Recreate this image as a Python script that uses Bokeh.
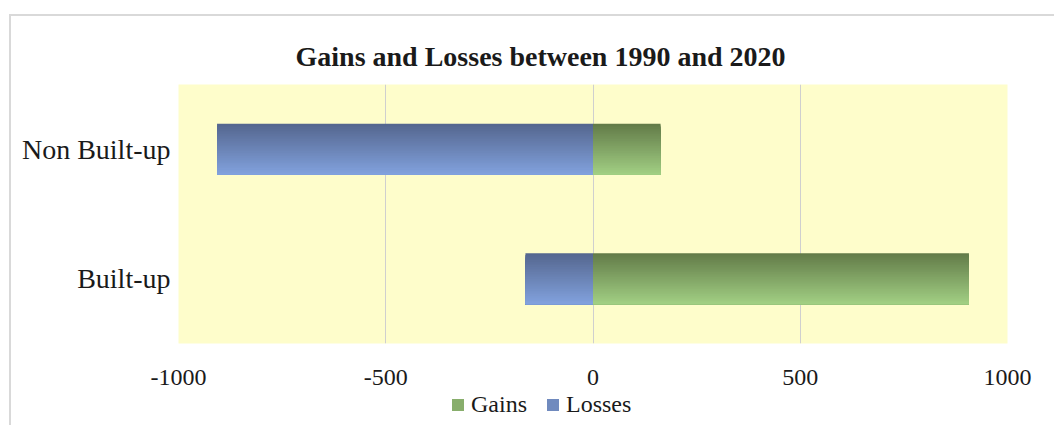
from bokeh.plotting import figure
from bokeh.layouts import column
from bokeh.models import (FactorRange, Range1d, Title, Legend, LegendItem,
                          ColumnDataSource, FixedTicker)
from bokeh.transform import dodge
from bokeh.embed import file_html
from bokeh.resources import INLINE

# Land-cover change between 1990 and 2020
categories = ["Built-up", "Non Built-up"]
gains = [907, 163]
losses = [-163, -907]
x_ticks = [-1000, -500, 0, 500, 1000]
x_tick_labels = ["-1000", "-500", "0", "500", "1000"]
series_names = ["Gains", "Losses"]

TITLE = "Gains and Losses between 1990 and 2020"
FONT = "Liberation Serif"
TEXT_COLOR = "#1a1a1a"

# vertical gradients (top colour, bottom colour) for each series
GRADIENTS = {
    "Gains": ((98, 122, 72), (162, 208, 132)),
    "Losses": ((84, 102, 142), (130, 162, 222)),
}


def blend(c0, c1, t):
    return "#%02x%02x%02x" % tuple(int(round(a + (b - a) * t)) for a, b in zip(c0, c1))


p = figure(width=1043, height=374,
           y_range=FactorRange(*categories), x_range=Range1d(-1000, 1000),
           output_backend="svg", toolbar_location=None,
           min_border_left=167, min_border_right=47,
           min_border_top=68, min_border_bottom=47)

p.background_fill_color = "#fefdcb"
p.border_fill_color = "white"
p.outline_line_color = None

p.title = Title(text=TITLE, align="left", offset=117, standoff=26,
                text_font=FONT, text_font_size="28px", text_font_style="bold",
                text_color=TEXT_COLOR)

# axes
p.xaxis.ticker = FixedTicker(ticks=x_ticks)
p.xaxis.major_label_overrides = dict(zip(x_ticks, x_tick_labels))
p.xaxis.axis_line_color = None
p.xaxis.major_tick_line_color = None
p.xaxis.minor_tick_line_color = None
p.xaxis.major_label_standoff = 20
p.xaxis.major_label_text_font = FONT
p.xaxis.major_label_text_font_size = "24px"
p.xaxis.major_label_text_color = TEXT_COLOR

p.yaxis.axis_line_color = None
p.yaxis.major_tick_line_color = None
p.yaxis.major_tick_in = 0
p.yaxis.major_tick_out = 0
p.yaxis.major_label_standoff = 8
p.yaxis.major_label_text_font = FONT
p.yaxis.major_label_text_font_size = "28px"
p.yaxis.major_label_text_color = TEXT_COLOR

p.xgrid.grid_line_color = "#cfcfcf"
p.xgrid.grid_line_width = 1
p.ygrid.grid_line_color = None

# bars: stacked strips, each running from its slot down to the bar bottom,
# so the later (lighter) ones paint over the lower part of the earlier ones
BAR_H = 0.395
N_STRIPS = 30

zeros = [0] * len(categories)
series = {
    "Gains": dict(cat=categories, left=zeros, right=gains),
    "Losses": dict(cat=categories, left=losses, right=zeros),
}

for name in series_names:
    src = ColumnDataSource(series[name])
    top_c, bot_c = GRADIENTS[name]
    for i in range(N_STRIPS):
        top = BAR_H / 2 - i * BAR_H / N_STRIPS
        bottom = -BAR_H / 2
        t = (i + 0.5) / N_STRIPS
        p.hbar(y=dodge("cat", (top + bottom) / 2, range=p.y_range),
               left="left", right="right", height=top - bottom, source=src,
               fill_color=blend(top_c, bot_c, t), line_color=None)

# legend strip underneath the chart
q = figure(width=1043, height=35, x_range=Range1d(0, 1), y_range=Range1d(0, 1),
           output_backend="svg", toolbar_location=None,
           x_axis_location=None, y_axis_location=None,
           min_border_left=0, min_border_right=0, min_border_top=0, min_border_bottom=0)
q.outline_line_color = None
q.grid.visible = False
q.background_fill_color = "white"
q.border_fill_color = "white"

legend_items = []
for name in series_names:
    top_c, bot_c = GRADIENTS[name]
    # zero-size glyph: only its colour is used, for the legend swatch
    swatch_src = ColumnDataSource(dict(y=[0], left=[0], right=[0]))
    swatch = q.hbar(y="y", left="left", right="right", height=0, source=swatch_src,
                    fill_color=blend(top_c, bot_c, 0.6), line_color=None)
    legend_items.append(LegendItem(label=name, renderers=[swatch]))

legend = Legend(items=legend_items, orientation="horizontal", location=(272, 7),
                glyph_width=15, glyph_height=15, label_standoff=6, spacing=18,
                label_height=24, padding=0, margin=0, border_line_color=None,
                background_fill_alpha=0,
                label_text_font=FONT, label_text_font_size="24px",
                label_text_color=TEXT_COLOR)
q.add_layout(legend)

page = column(p, q, spacing=0)
page.margin = (14, 0, 0, 9)
page.styles = {"border-top": "2px solid #d9d9d9", "border-left": "2px solid #d9d9d9"}

open("out.html", "w").write(file_html(page, INLINE))
